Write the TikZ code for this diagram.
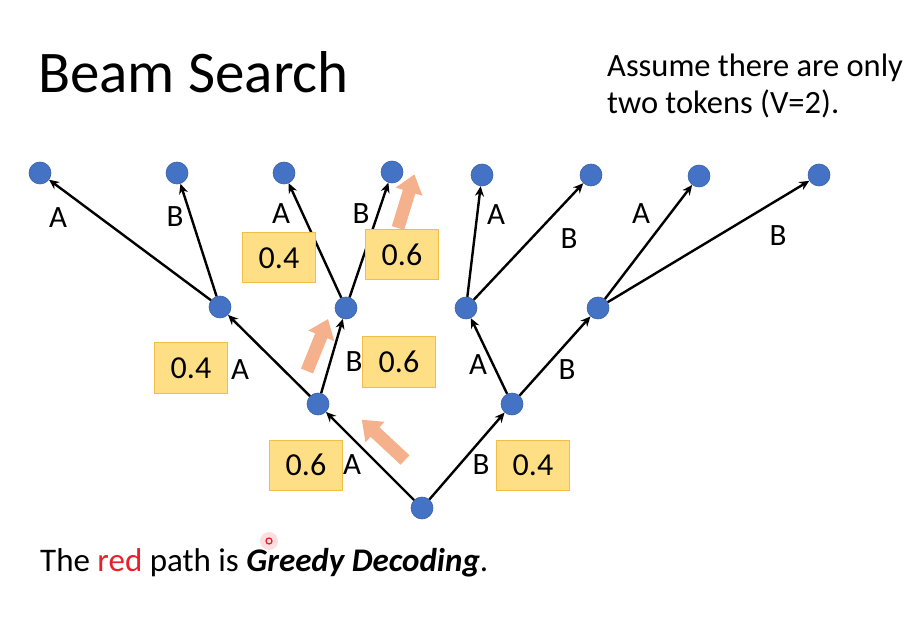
\documentclass[tikz,border=0pt]{standalone}
\usepackage{fontspec}
\setmainfont{Carlito}
\usetikzlibrary{arrows.meta}
\definecolor{nodeblue}{HTML}{4472C4}
\definecolor{nodeedge}{HTML}{3A62A8}
\definecolor{boxfill}{HTML}{FFDF85}
\definecolor{boxedge}{HTML}{F4BD45}
\definecolor{hint}{HTML}{F4A97E}
\definecolor{laser}{HTML}{E8202A}
\tikzset{
  tok/.style={circle, fill=nodeblue, draw=nodeedge, line width=0.6pt, minimum size=22pt, inner sep=0pt},
  link/.style={line width=2.4pt, -{Stealth[length=10pt,width=9pt]}},
  lbl/.style={font=\fontsize{31}{36}\selectfont, inner sep=0pt},
  prob/.style={fill=boxfill, draw=boxedge, line width=1pt, minimum width=73pt, minimum height=50pt, inner sep=0pt, font=\fontsize{32}{36}\selectfont},
}
% fat hint arrow: tail position, direction angle, length
\newcommand\hintarrow[3]{%
  \begin{scope}[shift={#1}, rotate=#2]
    \fill[hint, opacity=0.9] (0,-6.5) -- ({#3-18},-6.5) -- ({#3-18},-14) -- (#3,0)
      -- ({#3-18},14) -- ({#3-18},6.5) -- (0,6.5) -- cycle;
  \end{scope}}
\begin{document}
\begin{tikzpicture}[x=1pt, y=-1pt]
\useasboundingbox (0,0) rectangle (916,636);

% headings
\node[anchor=base west, inner sep=0pt, font=\fontsize{59}{64}\selectfont] (title) at (38,93) {Beam Search};
\node[anchor=base west, inner sep=0pt, font=\fontsize{32.5}{38}\selectfont] (note1) at (607,77) {Assume there are only};
\node[anchor=base west, inner sep=0pt, font=\fontsize{32.5}{38}\selectfont] (note2) at (607,114) {two tokens (V=2).};

% tree nodes
\node[tok] (root) at (422,508) {};
\node[tok] (l)  at (318,404) {};
\node[tok] (r)  at (512,404) {};
\node[tok] (ll) at (220,307) {};
\node[tok] (lr) at (346,308) {};
\node[tok] (rl) at (466,308) {};
\node[tok] (rr) at (598,308) {};
\node[tok] (t1) at (40,173) {};
\node[tok] (t2) at (177,173) {};
\node[tok] (t3) at (284,173) {};
\node[tok] (t4) at (392,172) {};
\node[tok] (t5) at (482,175) {};
\node[tok] (t6) at (591,175) {};
\node[tok] (t7) at (699,176) {};
\node[tok] (t8) at (819,175) {};

% branches
\draw[link] (root) -- (l);
\draw[link] (root) -- (r);
\draw[link] (l) -- (ll);
\draw[link] (l) -- (lr);
\draw[link] (r) -- (rl);
\draw[link] (r) -- (rr);
\draw[link] (ll) -- (t1);
\draw[link] (ll) -- (t2);
\draw[link] (lr) -- (t3);
\draw[link] (lr) -- (t4);
\draw[link] (rl) -- (t5);
\draw[link] (rl) -- (t6);
\draw[link] (rr) -- (t7);
\draw[link] (rr) -- (t8);

% branch labels
\node[lbl] (a1) at (352,465) {A};
\node[lbl] (b1) at (481,465) {B};
\node[lbl] (a2) at (240,370) {A};
\node[lbl] (b2) at (354,362) {B};
\node[lbl] (a3) at (478,365) {A};
\node[lbl] (b3) at (567,370) {B};
\node[lbl] (a4) at (58,218) {A};
\node[lbl] (b4) at (175,217) {B};
\node[lbl] (a5) at (281,214) {A};
\node[lbl] (b5) at (361,214) {B};
\node[lbl] (a6) at (496,215) {A};
\node[lbl] (b6) at (569,239) {B};
\node[lbl] (a7) at (641,214) {A};
\node[lbl] (b7) at (778,236) {B};

% probabilities
\node[prob] (p1) at (306,465) {0.6};
\node[prob] (p2) at (533,465) {0.4};
\node[prob] (p3) at (191,368) {0.4};
\node[prob] (p4) at (399,362) {0.6};
\node[prob] (p5) at (279,258) {0.4};
\node[prob] (p6) at (402,255) {0.6};

% greedy choices
\hintarrow{(405,460)}{137}{59}
\hintarrow{(307,371)}{68}{56}
\hintarrow{(398,228)}{73}{56}

% caption
\node[anchor=base west, inner sep=0pt, font=\fontsize{33}{38}\selectfont] (caption) at (40,571)
  {The \textcolor{laser}{red} path is \textbf{\textit{Greedy Decoding}}.};

% pointer spot
\fill[laser, opacity=0.15] (269,541) circle (9);
\draw[laser, line width=1.3pt] (269,541) circle (3);
\end{tikzpicture}
\end{document}
